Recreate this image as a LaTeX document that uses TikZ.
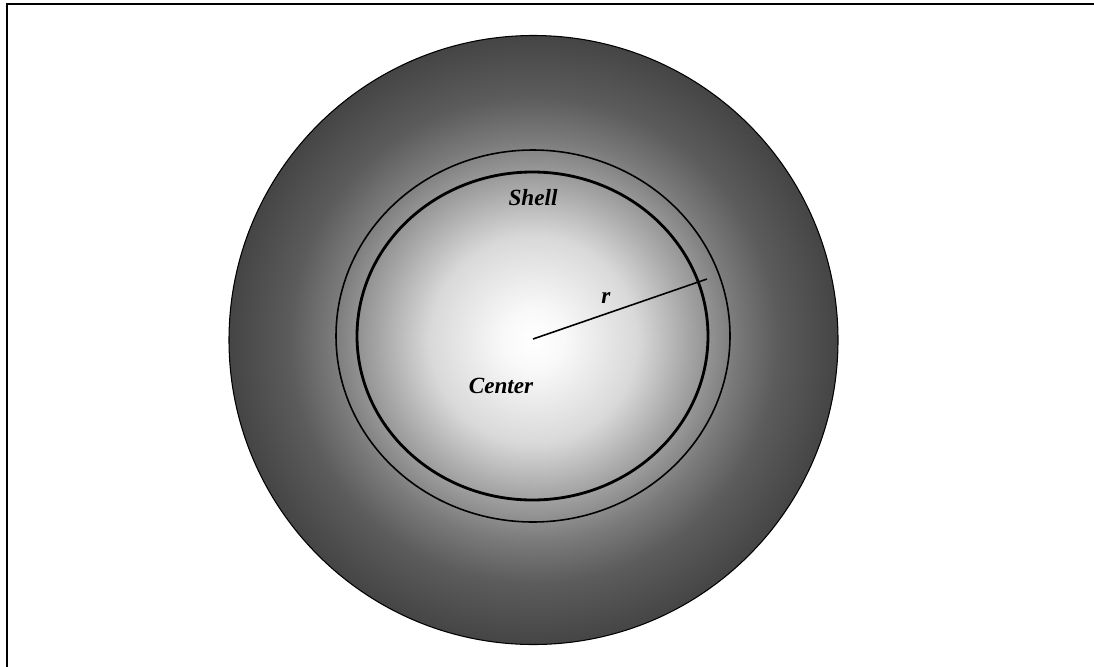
\documentclass[tikz,border=0pt]{standalone}
\usepackage{fontspec}
\setmainfont{Liberation Serif}
\usepackage{tikz}
\usetikzlibrary{positioning}
\definecolor{glow_a}{gray}{0.975}
\definecolor{glow_b}{gray}{0.85}
\definecolor{glow_c}{gray}{0.66}
\definecolor{glow_d}{gray}{0.48}
\definecolor{glow_e}{gray}{0.36}
\definecolor{glow_f}{gray}{0.27}
\pgfdeclareradialshading{stargas}{\pgfpoint{0bp}{0bp}}{%
  color(0bp)=(white); color(2.5bp)=(glow_a); color(8.5bp)=(glow_b);
  color(12.5bp)=(glow_c); color(16.5bp)=(glow_d); color(20bp)=(glow_e);
  color(25bp)=(glow_f); color(50bp)=(glow_f)}

\begin{document}
\begin{tikzpicture}[
        x=0.02cm, y=-0.02cm,
        every node/.style={font=\fontsize{13.2}{16}\selectfont\bfseries\itshape},
        frame/.style={draw, line width=0.8pt},
        body/.style={draw, line width=0.6pt, shading=stargas},
        shellring/.style={draw, line width=0.9pt},
        core/.style={draw, line width=1.6pt},
        rad/.style={draw, line width=0.9pt}
    ]
    \useasboundingbox (0,0) rectangle (1094,666);
    \clip (0,0) rectangle (1094,666);
    \draw[frame] (7,4) rectangle (1110,680);
    \path[body] (533.5,340) circle (304.5);
    \draw[shellring] (533,336) ellipse (197 and 186);
    \draw[core] (532.5,336) ellipse (175.5 and 164);
    \coordinate (ctr) at (533,339);
    \coordinate (edge) at (707,279);
    \draw[rad] (ctr) -- (edge);
    % labels
    \node (shell) at (533,198) {Shell};
    \node (rlab) at (606,298) {r};
    \node (center) at (501,386) {Center};
\end{tikzpicture}
\end{document}
